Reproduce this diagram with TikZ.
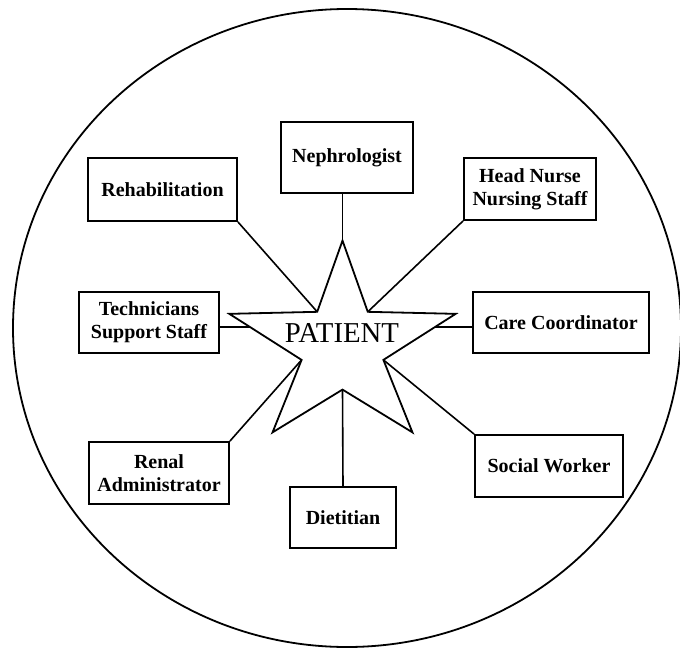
\documentclass[tikz,border=0pt]{standalone}
\usepackage{fontspec}
\setmainfont{Liberation Serif}
\usetikzlibrary{calc}

\tikzstyle{role}=[draw, line width=0.9pt, font=\fontsize{10}{11.5}\selectfont\bfseries, align=center, inner sep=0pt]
\tikzstyle{link} = [draw, line width=0.8pt, -]
\tikzstyle{centre} = [font=\fontsize{14.4}{16}\selectfont]

\begin{document}
\begin{tikzpicture}[x=0.5pt, y=-0.5pt]
		\useasboundingbox (0,0) rectangle (680,653);
		\clip (0,0) rectangle (680,653);
		\draw[line width=0.9pt] (347,328) ellipse [x radius=334, y radius=319];
		% star points: outer tips o0..o4, inner corners i0..i4
		\foreach \k in {0,...,4} {
			\coordinate (o\k) at ({342.5+119*cos(90+72*\k)}, {346.6-106*sin(90+72*\k)});
			\coordinate (i\k) at ({342.5+43*cos(126+72*\k)}, {346.6-43*sin(126+72*\k)});
		}
		\draw[line width=0.9pt, fill=white] (o0) -- (i0) -- (o1) -- (i1) -- (o2) -- (i2) -- (o3) -- (i3) -- (o4) -- (i4) -- cycle;
		\node[centre] (patient) at (342,333) {PATIENT};
		\foreach \pos/\name/\w/\h/\txt in {{(162.5,189.5)/rehab/149/63/Rehabilitation},
				{(347,157.5)/neph/132/71/Nephrologist},
				{(530,189)/head/132/62/{Head Nurse\\Nursing Staff}},
				{(149,322.5)/tech/140/61/{Technicians\\Support Staff}},
				{(561,322.5)/care/176/61/Care Coordinator},
				{(159,473)/renal/140/62/{Renal\\Administrator}},
				{(549,466)/social/148/62/Social Worker},
				{(343,517.5)/diet/106/61/Dietitian}}
			\node[role, minimum width=\w*0.5pt, minimum height=\h*0.5pt] (\name) at \pos {\txt};
		\coordinate (cl) at ($(o1)!0.28!(i1)$);
		\coordinate (cr) at ($(o4)!0.28!(i3)$);
		\foreach \source/ \dest in {rehab.south east/i0, head.south west/i4, renal.north east/i1, social.north west/i3, i2/diet.north, o0/o0 |- neph.south, cl/cl -| tech.east, cr/cr -| care.west}
			\path[link] (\source) -- (\dest);
	\end{tikzpicture}
\end{document}
